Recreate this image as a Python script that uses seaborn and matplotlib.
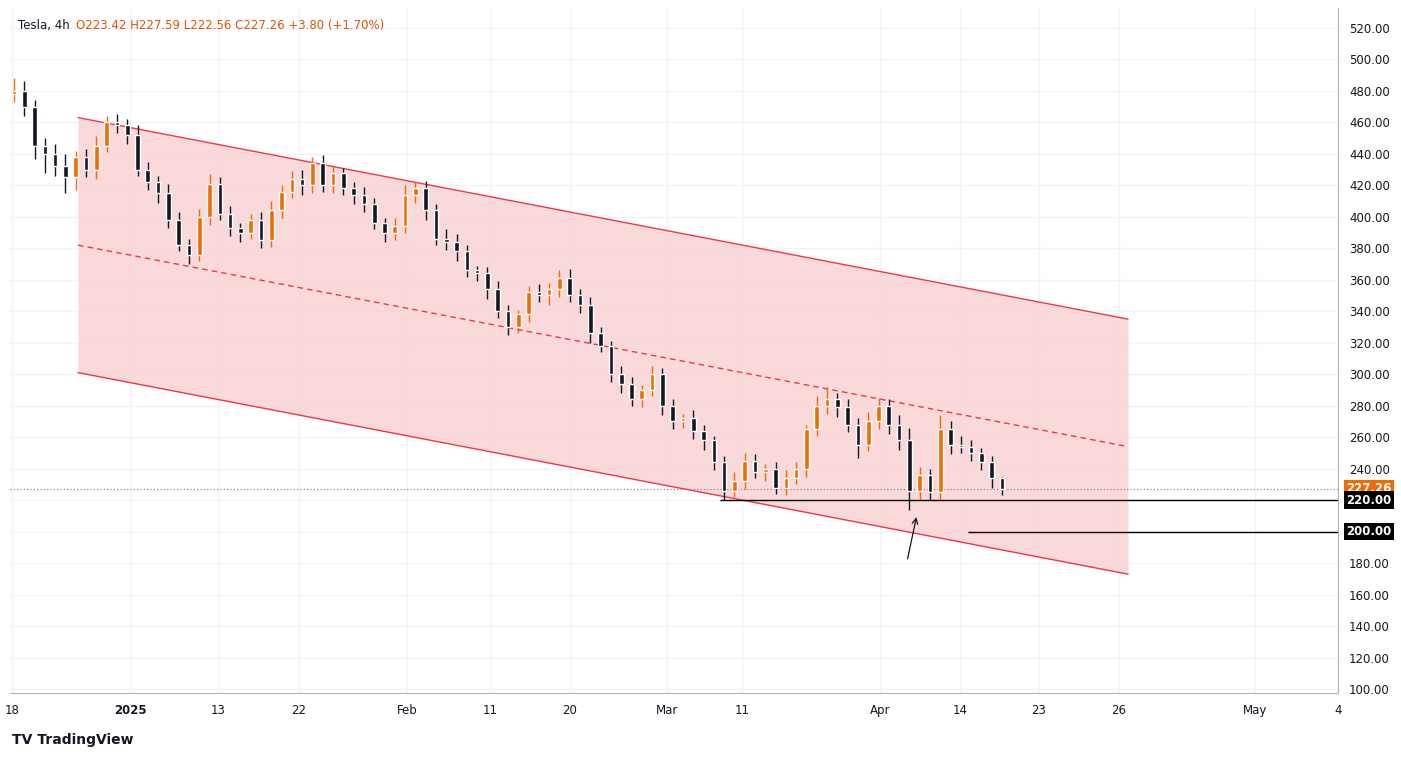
import numpy as np
import pandas as pd
import matplotlib.pyplot as plt
import seaborn as sns

# ── data ────────────────────────────────────────────────────
closes = [480, 470, 445, 440, 432, 425, 438, 430, 445, 460,
          458, 452, 430, 422, 415, 398, 382, 376, 400, 421,
          402, 393, 390, 398, 385, 404, 416, 424, 420, 434,
          420, 428, 418, 414, 408, 396, 390, 394, 414, 418,
          404, 386, 384, 378, 366, 364, 354, 340, 330, 338,
          352, 350, 354, 361, 350, 344, 326, 318, 300, 294,
          284, 290, 300, 280, 270, 272, 264, 258, 244, 226,
          232, 245, 238, 240, 228, 234, 240, 265, 280, 284,
          279, 268, 255, 270, 280, 268, 258, 226, 236, 225,
          265, 255, 254, 250, 244, 234, 227]
first_open = 478
upper_wick = [8, 6, 4, 5, 6, 8, 4, 5, 6, 4,
              5, 4, 6, 5, 4, 6, 5, 4, 5, 6,
              4, 5, 3, 4, 5, 6, 4, 5, 6, 4,
              5, 4, 3, 4, 5, 4, 3, 5, 6, 4,
              5, 4, 6, 5, 4, 3, 4, 5, 4, 3,
              4, 5, 4, 5, 6, 4, 5, 4, 3, 5,
              4, 3, 5, 4, 4, 3, 5, 4, 3, 4,
              6, 5, 4, 3, 4, 5, 4, 3, 6, 8,
              4, 5, 4, 6, 5, 4, 6, 8, 5, 4,
              9, 5, 6, 4, 3, 4, 1]
lower_wick = [5, 6, 8, 12, 6, 10, 8, 5, 6, 4,
              5, 6, 4, 5, 6, 5, 4, 6, 4, 5,
              4, 5, 6, 4, 5, 4, 5, 4, 6, 5,
              4, 5, 4, 6, 5, 4, 6, 5, 4, 5,
              6, 4, 5, 6, 4, 5, 6, 4, 5, 4,
              5, 4, 6, 5, 4, 5, 6, 4, 5, 6,
              4, 5, 4, 6, 5, 4, 5, 6, 5, 6,
              4, 5, 4, 6, 4, 5, 4, 5, 4, 5,
              6, 5, 8, 4, 5, 6, 6, 12, 6, 5,
              5, 6, 4, 5, 5, 6, 4]

# channel (start/end prices at left and right ends)
channel_upper = [463, 335]
channel_mid = [382, 254]
channel_lower = [301, 173]

level_prices = [220.0, 200.0]
last_price = 227.26

tick_labels = ["18", "2025", "13", "22", "Feb", "11", "20", "Mar", "11", "Apr", "14", "23", "26", "May", "4"]
tick_pos = [12, 130, 218, 299, 407, 490, 570, 667, 742, 880, 960, 1039, 1119, 1255, 1338]

# ── build OHLC ──────────────────────────────────────────────
n = len(closes)
opens = [first_open] + closes[:-1]
df = pd.DataFrame({"open": opens, "close": closes})
df["high"] = df[["open", "close"]].max(axis=1) + np.array(upper_wick)
df["low"] = df[["open", "close"]].min(axis=1) - np.array(lower_wick)
df["x"] = np.linspace(14, 1002, n)
step = df["x"].iloc[1] - df["x"].iloc[0]

UP = "#ef6c00"
DOWN = "#131722"
RED = "#f23645"

sns.set_style("white")
fig = plt.figure(figsize=(14.01, 7.58), dpi=100)
ax = fig.add_axes([10 / 1401, 65 / 758, 1328 / 1401, 685 / 758])
ax.set_xlim(10, 1338)
ax.set_ylim(97.5, 532.6)

# grid
for p in range(100, 540, 20):
    ax.axhline(p, color="#f0f3fa", lw=1, zorder=0)
for t in tick_pos:
    ax.axvline(t, color="#f0f3fa", lw=1, zorder=0)

# channel
cx = [78, 1128]
ax.fill_between(cx, channel_lower, channel_upper, color="#f9d0d3", alpha=0.8, lw=0, zorder=1)
chan = pd.DataFrame({"x": cx * 3,
                     "y": channel_upper + channel_mid + channel_lower,
                     "line": ["upper"] * 2 + ["mid"] * 2 + ["lower"] * 2})
sns.lineplot(data=chan, x="x", y="y", hue="line", style="line",
             palette={"upper": RED, "mid": RED, "lower": RED},
             dashes={"upper": "", "mid": (4, 3), "lower": ""},
             lw=1, legend=False, ax=ax, zorder=2)

# candles
colors = np.where(df["close"] >= df["open"], UP, DOWN)
ax.vlines(df["x"], df["low"], df["high"], color=colors, lw=1, zorder=3)
body = (df["close"] - df["open"]).abs().clip(lower=0.8)
ax.bar(df["x"], body, bottom=df[["open", "close"]].min(axis=1),
       width=step * 0.45, color=colors, zorder=4)

# levels
ax.hlines(level_prices[0], 720, 1338, color="black", lw=1, zorder=5)
ax.hlines(level_prices[1], 968, 1338, color="black", lw=1, zorder=5)
ax.axhline(last_price, color="#787b86", lw=0.8, ls=(0, (1, 2)), zorder=2)
ax.annotate("", xy=(917, 211), xytext=(907, 181),
            arrowprops=dict(arrowstyle="->", color="#131722", lw=0.9))

# axes styling
yt = list(range(100, 521, 20))
ax.yaxis.tick_right()
ax.set_yticks(yt)
ax.set_yticklabels(["" if p in (200, 220) else f"{p:.2f}" for p in yt], fontsize=8.5, color="#131722")
ax.set_xticks(tick_pos)
ax.set_xticklabels(tick_labels, fontsize=8.5, color="#131722")
for lab in ax.get_xticklabels():
    if lab.get_text() == "2025":
        lab.set_fontweight("bold")
ax.tick_params(length=0, pad=8)
ax.set_xlabel("")
ax.set_ylabel("")
for side in ["top", "left"]:
    ax.spines[side].set_visible(False)
ax.spines["right"].set_color("#b2b5be")
ax.spines["bottom"].set_color("#b2b5be")

# price tags
for price, bg in [(last_price, UP), (220.0, "black"), (200.0, "black")]:
    ax.text(1346, price, f"{price:.2f}", transform=ax.transData, fontsize=8.5,
            color="white", fontweight="bold", va="center", ha="left", clip_on=False,
            bbox=dict(boxstyle="square,pad=0.2", fc=bg, ec="none"), zorder=10)

# header
fig.text(18 / 1401, 1 - 25 / 758, "Tesla, 4h", fontsize=8.5, color="#131722", va="center")
fig.text(76 / 1401, 1 - 25 / 758, "O223.42 H227.59 L222.56 C227.26 +3.80 (+1.70%)",
         fontsize=8.5, color="#e65100", va="center")
fig.text(12 / 1401, 1 - 740 / 758, "TV TradingView", fontsize=10, color="#131722",
         fontweight="bold", va="center")

fig.savefig("out.png", dpi=100)
